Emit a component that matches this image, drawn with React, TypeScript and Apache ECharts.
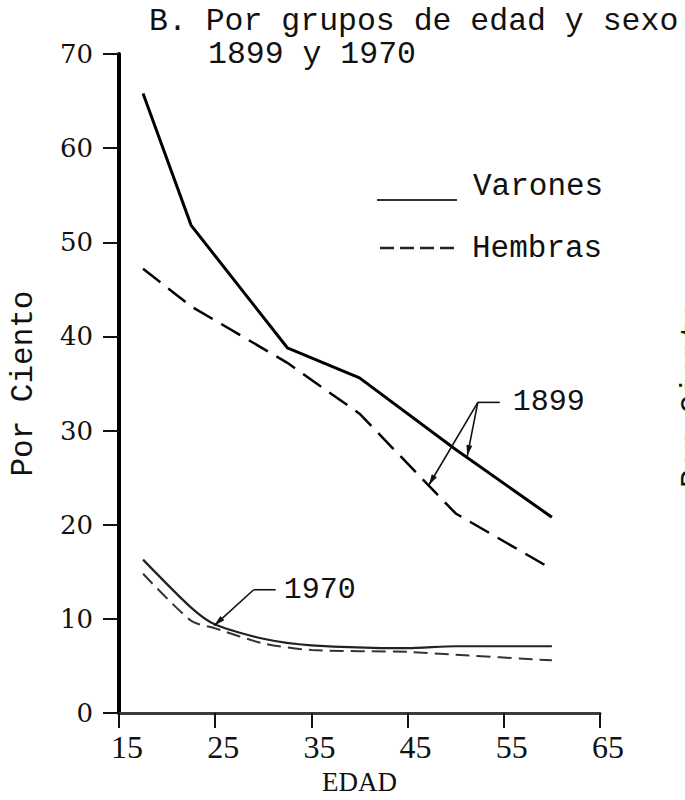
import React, { useEffect, useRef } from "react";
import * as echarts from "echarts";

// Age axis ticks (EDAD) and percentage ticks (Por Ciento)
const ageTicks = [15, 25, 35, 45, 55, 65];
const pctTicks = [0, 10, 20, 30, 40, 50, 60, 70];

// 1899 series (midpoints of age groups)
const ages1899 = [17.5, 22.5, 32.5, 40, 50, 60];
const varones1899 = [65.8, 51.8, 38.8, 35.6, 28.0, 20.8];
const hembras1899 = [47.2, 43.2, 37.2, 31.8, 21.2, 15.3];

// 1970 series
const ages1970 = [17.5, 22.5, 25, 30, 35, 45, 50, 60];
const varones1970 = [16.3, 11.2, 9.4, 7.9, 7.2, 6.9, 7.1, 7.1];
const hembras1970 = [14.8, 9.8, 9.0, 7.4, 6.7, 6.5, 6.2, 5.6];

const legendItems = ["Varones", "Hembras"];
const titleLines = ["B. Por grupos de edad y sexo", "1899 y 1970"];

const MONO = "'Liberation Mono', 'DejaVu Sans Mono', monospace";
const SERIF = "'Liberation Serif', 'DejaVu Serif', serif";
const DSERIF = "'DejaVu Serif', 'Liberation Serif', serif";

export default function App() {
  const ref = useRef<HTMLDivElement>(null);

  useEffect(() => {
    document.body.style.margin = "0";
    const chart = echarts.init(ref.current!, null, { renderer: "svg" });
    const zip = (xs: number[], ys: number[]) => xs.map((x, i) => [x, ys[i]]);

    chart.setOption({
      animation: false,
      backgroundColor: "#ffffff",
      grid: { left: 118, right: 85, top: 54, bottom: 76 },
      xAxis: {
        type: "value",
        min: ageTicks[0],
        max: ageTicks[ageTicks.length - 1],
        interval: 10,
        name: "EDAD",
        nameLocation: "middle",
        nameGap: 50,
        nameTextStyle: { fontFamily: SERIF, fontSize: 27, color: "#111" },
        axisLine: { onZero: false, lineStyle: { color: "#3a3a3a", width: 3 } },
        axisTick: { show: true, length: 15, lineStyle: { color: "#111", width: 2 } },
        axisLabel: {
          fontFamily: SERIF,
          fontSize: 32,
          color: "#111",
          margin: 18,
          padding: [0, 0, 0, 16],
          formatter: (v: number) => (ageTicks.includes(v) ? String(v) : ""),
        },
        splitLine: { show: false },
      },
      yAxis: {
        type: "value",
        min: pctTicks[0],
        max: pctTicks[pctTicks.length - 1],
        interval: 10,
        name: "Por Ciento",
        nameLocation: "middle",
        nameGap: 80,
        nameRotate: 90,
        nameTextStyle: { fontFamily: MONO, fontSize: 31, color: "#111" },
        axisLine: { onZero: false, lineStyle: { color: "#000", width: 4 } },
        axisTick: { show: true, length: 16, lineStyle: { color: "#111", width: 2 } },
        axisLabel: { fontFamily: DSERIF, fontSize: 26, color: "#111", margin: 26 },
        splitLine: { show: false },
      },
      series: [
        {
          type: "line",
          name: "Varones 1899",
          data: zip(ages1899, varones1899),
          symbol: "none",
          lineStyle: { color: "#000", width: 3 },
          z: 3,
        },
        {
          type: "line",
          name: "Hembras 1899",
          data: zip(ages1899, hembras1899),
          symbol: "none",
          lineStyle: { color: "#000", width: 2.5, type: [22, 10] },
          z: 3,
        },
        {
          type: "line",
          name: "Varones 1970",
          data: zip(ages1970, varones1970),
          symbol: "none",
          smooth: 0.25,
          lineStyle: { color: "#222", width: 2.2 },
          z: 3,
        },
        {
          type: "line",
          name: "Hembras 1970",
          data: zip(ages1970, hembras1970),
          symbol: "none",
          smooth: 0.25,
          lineStyle: { color: "#333", width: 2, type: [14, 7] },
          z: 3,
        },
      ],
    });

    const px = (p: number[]) => chart.convertToPixel({ gridIndex: 0 }, p) as number[];

    const arrow = (from: number[], to: number[]) => {
      const dx = to[0] - from[0];
      const dy = to[1] - from[1];
      const len = Math.sqrt(dx * dx + dy * dy);
      const ux = dx / len;
      const uy = dy / len;
      const L = 11;
      const W = 3;
      const bx = to[0] - ux * L;
      const by = to[1] - uy * L;
      return [
        {
          type: "line",
          shape: { x1: from[0], y1: from[1], x2: to[0], y2: to[1] },
          style: { stroke: "#111", lineWidth: 1.6 },
          z: 10,
        },
        {
          type: "polygon",
          shape: {
            points: [
              [to[0], to[1]],
              [bx - uy * W, by + ux * W],
              [bx + uy * W, by - ux * W],
            ],
          },
          style: { fill: "#111" },
          z: 10,
        },
      ];
    };

    const o1899 = px([52.3, 33.0]);
    const tipsF1899 = px([47.2, 24.2]);
    const tipsM1899 = px([51.2, 27.3]);
    const o1970 = px([29.0, 13.1]);
    const tip1970 = px([24.9, 9.3]);

    chart.setOption({
      graphic: [
        {
          type: "text",
          x: 149,
          y: 21,
          style: {
            text: titleLines[0],
            font: `31.5px ${MONO}`,
            fill: "#111",
            textAlign: "left",
            textVerticalAlign: "middle",
          },
        },
        {
          type: "text",
          x: 208,
          y: 54,
          style: {
            text: titleLines[1],
            font: `31.5px ${MONO}`,
            fill: "#111",
            textAlign: "left",
            textVerticalAlign: "middle",
          },
        },
        // legend
        {
          type: "line",
          shape: { x1: 377, y1: 200, x2: 457, y2: 200 },
          style: { stroke: "#333", lineWidth: 2 },
        },
        {
          type: "text",
          x: 473,
          y: 186,
          style: {
            text: legendItems[0],
            font: `31px ${MONO}`,
            fill: "#111",
            textAlign: "left",
            textVerticalAlign: "middle",
          },
        },
        {
          type: "line",
          shape: { x1: 380, y1: 248, x2: 454, y2: 248 },
          style: { stroke: "#222", lineWidth: 2.5, lineDash: [14, 6] },
        },
        {
          type: "text",
          x: 472,
          y: 248,
          style: {
            text: legendItems[1],
            font: `31px ${MONO}`,
            fill: "#111",
            textAlign: "left",
            textVerticalAlign: "middle",
          },
        },
        // 1899 annotation
        {
          type: "line",
          shape: { x1: o1899[0], y1: o1899[1], x2: o1899[0] + 22, y2: o1899[1] },
          style: { stroke: "#111", lineWidth: 1.6 },
        },
        ...arrow(o1899, tipsF1899),
        ...arrow(o1899, tipsM1899),
        {
          type: "text",
          x: o1899[0] + 35,
          y: o1899[1],
          style: {
            text: "1899",
            font: `30px ${MONO}`,
            fill: "#111",
            textAlign: "left",
            textVerticalAlign: "middle",
          },
        },
        // 1970 annotation
        {
          type: "line",
          shape: { x1: o1970[0], y1: o1970[1], x2: o1970[0] + 22, y2: o1970[1] },
          style: { stroke: "#111", lineWidth: 1.6 },
        },
        ...arrow(o1970, tip1970),
        {
          type: "text",
          x: o1970[0] + 30,
          y: o1970[1],
          style: {
            text: "1970",
            font: `30px ${MONO}`,
            fill: "#111",
            textAlign: "left",
            textVerticalAlign: "middle",
          },
        },
        // neighbouring chart's axis title, cut at the right edge as in the scan
        {
          type: "text",
          x: 693,
          y: 395,
          rotation: Math.PI / 2,
          style: {
            text: "Por Ciento",
            font: `31px ${MONO}`,
            fill: "#111",
            textAlign: "center",
            textVerticalAlign: "middle",
          },
        },
      ],
    });

    return () => chart.dispose();
  }, []);

  return <div ref={ref} style={{ width: 685, height: 800 }} />;
}
